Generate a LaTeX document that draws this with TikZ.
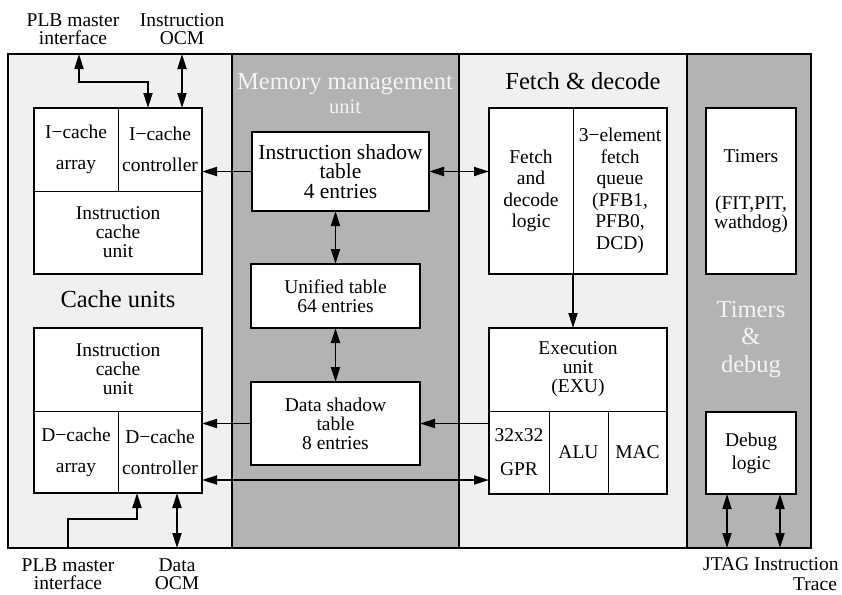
\documentclass[tikz,border=0pt]{standalone}
\usepackage{fontspec}
\setmainfont{Liberation Serif}
\usetikzlibrary{arrows.meta,calc}
\definecolor{panellight}{HTML}{F0F0F0}
\definecolor{paneldark}{HTML}{B3B3B3}
\definecolor{titlewhite}{HTML}{F4F4F4}
\newcommand\dgbody{\fontsize{19.5}{19}\selectfont}
\newcommand\dglabel{\fontsize{19.5}{18}\selectfont}
\newcommand\dgtrace{\fontsize{19.5}{19.5}\selectfont}
\newcommand\dgfetch{\fontsize{19.5}{21.5}\selectfont}
\newcommand\dgbig{\fontsize{21.5}{19.5}\selectfont}
\newcommand\dgtitle{\fontsize{24.5}{27.5}\selectfont}
\newcommand\dgsub{\fontsize{20.5}{20}\selectfont}
\begin{document}
\begin{tikzpicture}[x=1pt,y=-1pt,
  panel/.style={draw=black,line width=2pt,anchor=north west,inner sep=0pt,outer sep=0pt},
  lightpanel/.style={panel,fill=panellight},
  darkpanel/.style={panel,fill=paneldark},
  cell/.style={draw=black,line width=0.9pt,fill=white,anchor=north west,inner sep=0pt,outer sep=0pt,align=center,font=\dgbody},
  frame/.style={draw=black,line width=2pt,anchor=north west,inner sep=0pt,outer sep=0pt},
  box/.style={frame,fill=white,align=center,font=\dgbody},
  lbl/.style={align=center,font=\dglabel,inner sep=0pt},
  title/.style={font=\dgtitle,inner sep=0pt,align=center},
  arr/.style={line width=1.8pt,-{Triangle[length=15pt,width=9pt]}},
  dblarr/.style={line width=1.8pt,{Triangle[length=15pt,width=9pt]}-{Triangle[length=15pt,width=9pt]}},
]
\useasboundingbox (0,0) rectangle (842,594);
% panels
\node[lightpanel,minimum width=224,minimum height=494] (cachep) at (8,54) {};
\node[darkpanel,minimum width=227,minimum height=494] (mmup) at (232,54) {};
\node[lightpanel,minimum width=228,minimum height=494] (fetchp) at (459,54) {};
\node[darkpanel,minimum width=124,minimum height=494] (timerp) at (687,54) {};
% titles
\node[title,anchor=base] (cachet) at (118,307) {Cache units};
\node[title,anchor=base,text=titlewhite] (mmut) at (345,89) {Memory management};
\node[font=\dgsub,anchor=base,text=titlewhite,inner sep=0pt] (mmusub) at (345,113) {unit};
\node[title,anchor=base] (fetcht) at (583,89) {Fetch \& decode};
\node[title,text=titlewhite] (timert) at (751,339.5) {Timers\\\&\\debug};
% I-cache
\node[cell,minimum width=84,minimum height=83] (icarr) at (34,108) {I−cache\\[12pt]array};
\node[cell,minimum width=84,minimum height=83] (icctl) at (118,108) {I−cache\\[12pt]controller};
\node[cell,minimum width=168,minimum height=83] (icunit) at (34,191) {Instruction\\cache\\unit};
\node[frame,minimum width=168,minimum height=166] (icache) at (34,108) {};
% D-cache
\node[cell,minimum width=168,minimum height=83] (dcunit) at (34,328) {Instruction\\cache\\unit};
\node[cell,minimum width=84,minimum height=82] (dcarr) at (34,411) {D−cache\\[12pt]array};
\node[cell,minimum width=84,minimum height=82] (dctl) at (118,411) {D−cache\\[12pt]controller};
\node[frame,minimum width=168,minimum height=165] (dcache) at (34,328) {};
% MMU
\node[box,font=\dgbig,minimum width=177,minimum height=79] (ist) at (252,132) {Instruction shadow\\table\\4 entries};
\node[box,minimum width=169,minimum height=64] (unified) at (251,264) {Unified table\\64 entries};
\node[box,minimum width=169,minimum height=83] (dst) at (251,382) {Data shadow\\table\\8 entries};
% Fetch
\node[cell,font=\dgfetch,minimum width=84,minimum height=166] (fetchl) at (489,108) {Fetch\\and\\decode\\logic};
\node[cell,font=\dgfetch,minimum width=94,minimum height=166] (fetchr) at (573,108) {3−element\\fetch\\queue\\(PFB1,\\PFB0,\\DCD)};
\node[frame,minimum width=178,minimum height=166] (fetchbox) at (489,108) {};
% Exec
\node[cell,minimum width=178,minimum height=83] (execu) at (489,328) {Execution\\unit\\(EXU)};
\node[cell,minimum width=60,minimum height=83] (gpr) at (489,411) {32x32\\[15pt]GPR};
\node[cell,minimum width=59,minimum height=83] (alu) at (549,411) {ALU};
\node[cell,minimum width=59,minimum height=83] (mac) at (608,411) {MAC};
\node[frame,minimum width=178,minimum height=166] (exec) at (489,328) {};
% Timers & debug
\node[box,minimum width=90,minimum height=166] (timers) at (706,108) {Timers\\[28pt](FIT,PIT,\\wathdog)};
\node[box,minimum width=90,minimum height=82] (debug) at (706,412) {Debug\\[4pt]logic};
% external labels
\node[lbl] (plbtopl) at (73,29) {PLB master\\interface};
\node[lbl] (iocml) at (182,29) {Instruction\\OCM};
\node[lbl] (plbbotl) at (68,574.5) {PLB master\\interface};
\node[lbl] (docml) at (177,574.5) {Data\\OCM};
\node[font=\dgtrace,align=left,anchor=north west,inner sep=0pt] (jtagl) at (703,557.5) {JTAG Instruction\\\hspace*{90pt}Trace};
% connector end points on the outer frame
\coordinate (plbtop) at (79,54);
\coordinate (plbtopbend) at (79,82);
\coordinate (iocm) at (182,54);
\coordinate (plbbot) at (68,548);
\coordinate (plbbotbend) at (68,519);
\coordinate (docm) at (177,548);
\coordinate (jtagpt) at (727,548);
\coordinate (tracept) at (780,548);
% connectors
\draw[dblarr] (plbtop) -- (plbtopbend) -| ([xshift=-12pt]icctl.north);
\draw[dblarr] (iocm) -- (iocm |- icctl.north);
\draw[arr] (ist.west) -- (ist.west -| icctl.east);
\draw[dblarr] (ist.east) -- (ist.east -| fetchl.west);
\draw[dblarr] (ist.south -| unified.north) -- (unified.north);
\draw[dblarr] (unified.south) -- (dst.north);
\draw[arr] (dst.west) -- (dst.west -| dctl.east);
\draw[arr] (dst.east -| gpr.west) -- (dst.east);
\draw[dblarr] ([yshift=-28pt]dctl.east) -- ([yshift=-28pt]dctl.east -| gpr.west);
\draw[arr] (fetchl.south east) -- (fetchl.south east |- execu.north);
\draw[arr] (plbbot) -- (plbbotbend) -| ([xshift=-23pt]dctl.south);
\draw[dblarr] ([xshift=17pt]dctl.south) -- (docm);
\draw[dblarr] (debug.south -| jtagpt) -- (jtagpt);
\draw[dblarr] (debug.south -| tracept) -- (tracept);
\end{tikzpicture}
\end{document}
